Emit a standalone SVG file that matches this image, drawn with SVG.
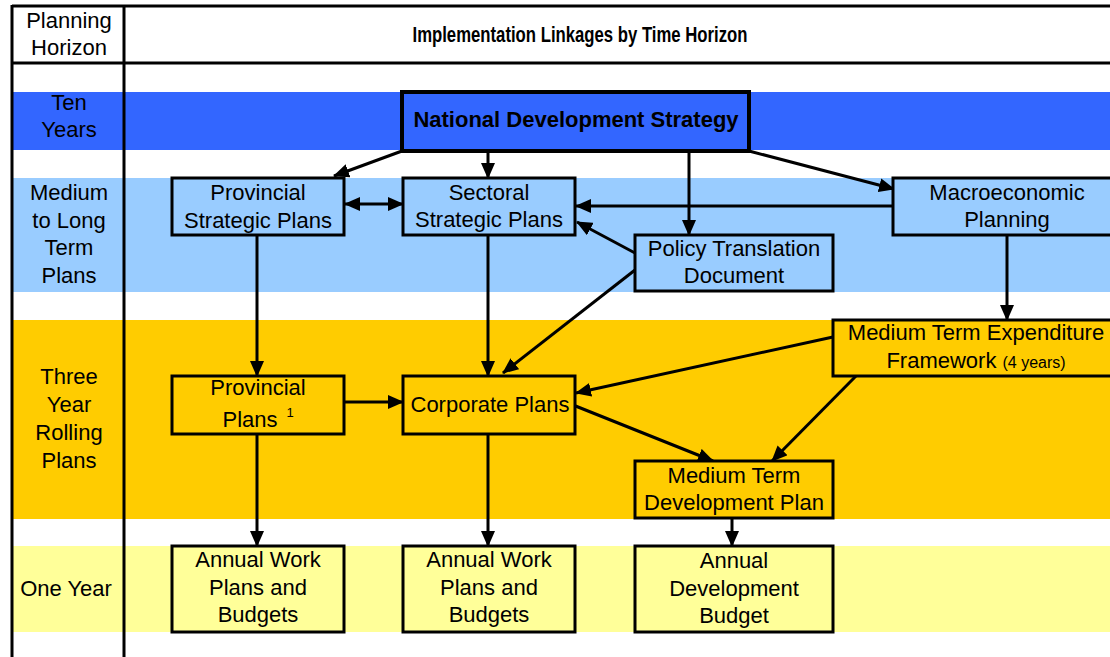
<svg xmlns="http://www.w3.org/2000/svg" width="1110" height="657" viewBox="0 0 1110 657">
<defs>
<marker id="ah" markerUnits="userSpaceOnUse" markerWidth="16" markerHeight="14" refX="15" refY="7" orient="auto-start-reverse" viewBox="0 0 16 14">
<path d="M0,0 L16,7 L0,14 z" fill="#000"/>
</marker>
<style>
text{font-family:"Liberation Sans",Arial,sans-serif;font-size:22px;fill:#000;text-anchor:middle}
.b{font-weight:bold}
.hd{font-size:22px}
.sup{font-size:13px}
.sm{font-size:16px}
.box{stroke:#000;stroke-width:3}
.nds{stroke:#000;stroke-width:4;fill:#3366FF}
.lb{fill:#99CCFF}
.gd{fill:#FFCC00}
.ly{fill:#FFFF99}
.frame{stroke:#000;stroke-width:3;fill:none}
.c{stroke:#000;stroke-width:3;fill:none;marker-end:url(#ah)}
</style>
</defs>
<rect width="1110" height="657" fill="#fff"/>
<g id="bands">
<rect x="13" y="92" width="1097" height="58" fill="#3366FF"/>
<rect x="13" y="178" width="1097" height="114" fill="#99CCFF"/>
<rect x="13" y="320" width="1097" height="199" fill="#FFCC00"/>
<rect x="13" y="546" width="1097" height="86" fill="#FFFF99"/>
</g>
<g id="frame">
<line class="frame" x1="12" y1="6" x2="1110" y2="6"/>
<line class="frame" x1="12" y1="63" x2="1110" y2="63"/>
<line class="frame" x1="12" y1="5" x2="12" y2="657"/>
<line class="frame" x1="124" y1="5" x2="124" y2="657"/>
</g>
<g id="labels">
<text x="69" y="28">Planning</text>
<text x="69" y="55">Horizon</text>
<text class="b hd" x="580" y="42" textLength="335" lengthAdjust="spacingAndGlyphs">Implementation Linkages by Time Horizon</text>
<text x="69" y="110">Ten</text>
<text x="69" y="137">Years</text>
<text x="69" y="200">Medium</text>
<text x="69" y="228">to Long</text>
<text x="69" y="255">Term</text>
<text x="69" y="283">Plans</text>
<text x="69" y="384">Three</text>
<text x="69" y="412">Year</text>
<text x="69" y="440">Rolling</text>
<text x="69" y="468">Plans</text>
<text x="66" y="596">One Year</text>
</g>
<g id="connectors">
<line class="c" x1="402" y1="151" x2="334" y2="176"/>
<line class="c" x1="488" y1="152" x2="488" y2="178"/>
<line class="c" x1="689" y1="147" x2="689" y2="235"/>
<line class="c" x1="749" y1="151" x2="894" y2="189"/>
<line class="c" x1="345" y1="204" x2="403" y2="204" marker-start="url(#ah)"/>
<line class="c" x1="893" y1="206" x2="576" y2="206"/>
<line class="c" x1="635" y1="253" x2="577" y2="222"/>
<line class="c" x1="635" y1="270" x2="503" y2="373"/>
<line class="c" x1="257" y1="235" x2="257" y2="376"/>
<line class="c" x1="488" y1="235" x2="488" y2="376"/>
<line class="c" x1="1007" y1="235" x2="1007" y2="320"/>
<line class="c" x1="344" y1="402" x2="403" y2="402"/>
<line class="c" x1="833" y1="337" x2="576" y2="393"/>
<line class="c" x1="856" y1="376" x2="772" y2="461"/>
<line class="c" x1="573" y1="405" x2="713" y2="461"/>
<line class="c" x1="257" y1="434" x2="257" y2="546"/>
<line class="c" x1="488" y1="434" x2="488" y2="546"/>
<line class="c" x1="732" y1="518" x2="732" y2="546"/>
</g>
<g id="nds">
<rect class="nds" x="402" y="92" width="347" height="59"/>
<text class="b" x="576" y="127">National Development Strategy</text>
</g>
<g id="psp">
<rect class="box lb" x="172" y="178" width="172" height="57"/>
<text x="258" y="200">Provincial</text>
<text x="258" y="228">Strategic Plans</text>
</g>
<g id="ssp">
<rect class="box lb" x="403" y="178" width="172" height="57"/>
<text x="489" y="200">Sectoral</text>
<text x="489" y="227">Strategic Plans</text>
</g>
<g id="macro">
<rect class="box lb" x="893" y="178" width="230" height="57"/>
<text x="1007" y="200">Macroeconomic</text>
<text x="1007" y="227">Planning</text>
</g>
<g id="ptd">
<rect class="box lb" x="635" y="235" width="198" height="56"/>
<text x="734" y="256">Policy Translation</text>
<text x="734" y="283">Document</text>
</g>
<g id="mtef">
<rect class="box gd" x="833" y="320" width="290" height="56"/>
<text x="976" y="340">Medium Term Expenditure</text>
<text x="976" y="368">Framework <tspan class="sm">(4 years)</tspan></text>
</g>
<g id="pp">
<rect class="box gd" x="172" y="376" width="172" height="58"/>
<text x="258" y="395">Provincial</text>
<text x="250" y="427">Plans</text>
<text class="sup" x="290" y="417">1</text>
</g>
<g id="corp">
<rect class="box gd" x="403" y="376" width="172" height="58"/>
<text x="490" y="412">Corporate Plans</text>
</g>
<g id="mtdp">
<rect class="box gd" x="635" y="461" width="198" height="57"/>
<text x="734" y="483">Medium Term</text>
<text x="734" y="510">Development Plan</text>
</g>
<g id="awp1">
<rect class="box ly" x="172" y="546" width="172" height="86"/>
<text x="258" y="567">Annual Work</text>
<text x="258" y="595">Plans and</text>
<text x="258" y="622">Budgets</text>
</g>
<g id="awp2">
<rect class="box ly" x="403" y="546" width="172" height="86"/>
<text x="489" y="567">Annual Work</text>
<text x="489" y="595">Plans and</text>
<text x="489" y="622">Budgets</text>
</g>
<g id="adb">
<rect class="box ly" x="635" y="546" width="198" height="86"/>
<text x="734" y="568">Annual</text>
<text x="734" y="596">Development</text>
<text x="734" y="623">Budget</text>
</g>
</svg>
